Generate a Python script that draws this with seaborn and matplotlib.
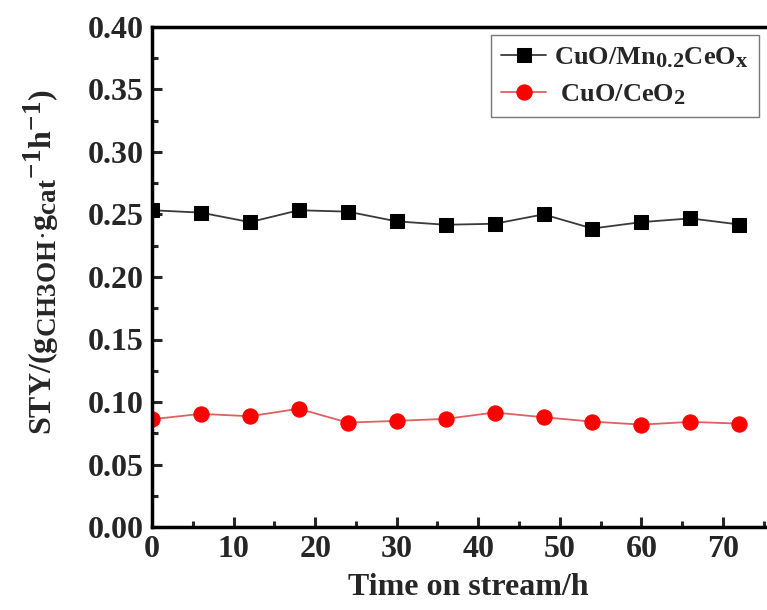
import matplotlib
matplotlib.use("Agg")
import matplotlib.pyplot as plt
from matplotlib.ticker import MultipleLocator, FormatStrFormatter
import seaborn as sns
import pandas as pd

try:
    import matplotlib._mathtext as _mt
    _mt.SHRINK_FACTOR = 0.85
except Exception:
    pass

time_h = [0, 6, 12, 18, 24, 30, 36, 42, 48, 54, 60, 66, 72]
sty_mn = [0.2534, 0.2515, 0.2439, 0.2534, 0.2523, 0.2445, 0.2418, 0.2426, 0.2501, 0.2388, 0.2439, 0.2469, 0.2420]
sty_ce = [0.0862, 0.0905, 0.0886, 0.0946, 0.0835, 0.0849, 0.0865, 0.0916, 0.0878, 0.0843, 0.0819, 0.0841, 0.0827]
label_mn = r"CuO/Mn$_{\mathrm{0.2}}$CeO$_{\mathrm{x}}$"
label_ce = r" CuO/CeO$_{\mathrm{2}}$"

sns.set_theme(style="ticks")
plt.rcParams["font.family"] = ["Liberation Serif", "DejaVu Serif"]
plt.rcParams["font.weight"] = "bold"
plt.rcParams["mathtext.fontset"] = "custom"
plt.rcParams["mathtext.rm"] = "Liberation Serif:bold"
plt.rcParams["mathtext.it"] = "Liberation Serif:bold"
plt.rcParams["mathtext.bf"] = "Liberation Serif:bold"

W, H = 767, 610
fig = plt.figure(figsize=(W / 100, H / 100), dpi=100)
ax_w = 632
ax = fig.add_axes([152 / W, 83 / H, ax_w / W, 500 / H])

df_mn = pd.DataFrame({"t": time_h, "v": sty_mn})
df_ce = pd.DataFrame({"t": time_h, "v": sty_ce})
sns.lineplot(data=df_mn, x="t", y="v", ax=ax, color="#3a3a3a", lw=1.3,
             marker="s", markersize=10, markerfacecolor="black",
             markeredgecolor="black", label=label_mn)
sns.lineplot(data=df_ce, x="t", y="v", ax=ax, color="#e06060", lw=1.3,
             marker="o", markersize=11, markerfacecolor="#ff0000",
             markeredgecolor="#ff0000", label=label_ce)

ax.set_xlim(0, ax_w / 8.157)
ax.set_ylim(0, 0.40)
ax.xaxis.set_major_locator(MultipleLocator(10))
ax.xaxis.set_minor_locator(MultipleLocator(5))
ax.yaxis.set_major_locator(MultipleLocator(0.05))
ax.yaxis.set_minor_locator(MultipleLocator(0.025))
ax.yaxis.set_major_formatter(FormatStrFormatter("%.2f"))
ax.tick_params(which="major", direction="in", length=7, width=2.2, labelsize=23, pad=6)
ax.tick_params(which="minor", direction="in", length=4, width=2.2)
for lab in ax.get_xticklabels() + ax.get_yticklabels():
    lab.set_fontweight("bold")
for s in ax.spines.values():
    s.set_linewidth(2.5)
    s.set_color("black")

ax.set_xlabel("Time on stream/h", fontsize=23, fontweight="bold", labelpad=6)
ax.set_ylabel(r"STY/(g$_{\mathrm{CH3OH}}$$\cdot$g$_{\mathrm{cat}}$$^{\mathrm{-1}}$h$^{\mathrm{-1}}$)",
              fontsize=23, fontweight="bold", labelpad=19, y=0.53)

leg = ax.legend(loc="upper right", bbox_to_anchor=(759 / W, 575 / H),
                bbox_transform=fig.transFigure, borderaxespad=0, fontsize=19,
                frameon=True, fancybox=False, edgecolor="#555555", handlelength=1.7,
                borderpad=0.4, labelspacing=0.45, handletextpad=0.3)
leg.get_frame().set_linewidth(1.0)
for t in leg.get_texts():
    t.set_fontweight("bold")

fig.savefig("out.png", dpi=100)
